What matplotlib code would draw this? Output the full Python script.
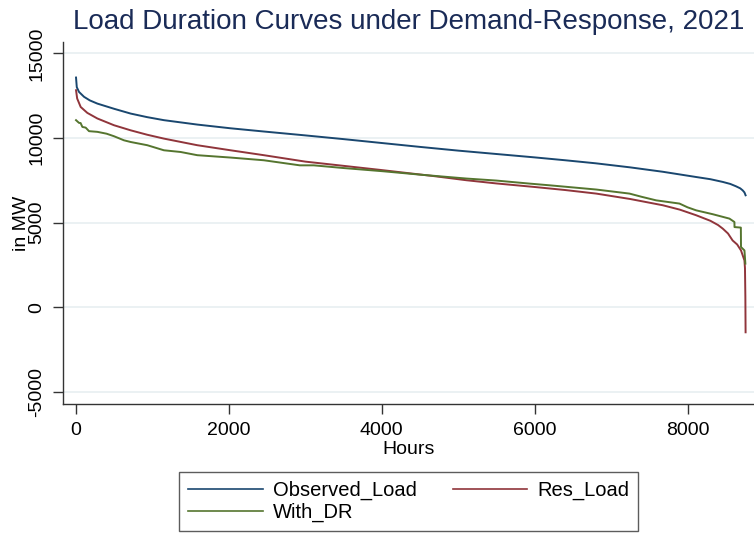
import matplotlib
matplotlib.use("Agg")
import matplotlib.pyplot as plt

# values (hours sorted by load, MW)
obs_hours = [0, 10, 39, 105, 180, 279, 500, 715, 930, 1150, 1586, 2022, 2457, 3000, 3500,
             4000, 4500, 5000, 5500, 6000, 6400, 6800, 7250, 7677, 8113, 8300, 8461, 8560,
             8635, 8690, 8722, 8745, 8760]
obs_load = [13570, 13000, 12720, 12430, 12220, 12030, 11720, 11440, 11230, 11050, 10790,
            10570, 10380, 10150, 9930, 9700, 9470, 9250, 9050, 8850, 8680, 8500, 8260, 8000,
            7690, 7560, 7400, 7280, 7140, 7020, 6900, 6780, 6610]

res_hours = [0, 15, 61, 148, 279, 497, 715, 930, 1150, 1586, 2022, 2457, 3000, 3500, 4000,
             4670, 5106, 5500, 6000, 6400, 6806, 7250, 7677, 7900, 8113, 8300, 8400, 8461,
             8530, 8590, 8650, 8700, 8745, 8752, 8757, 8760]
res_load = [12820, 12330, 11830, 11480, 11150, 10750, 10450, 10190, 9960, 9570, 9270, 8980,
            8600, 8350, 8100, 7750, 7500, 7310, 7100, 6920, 6710, 6390, 6020, 5760, 5430,
            5100, 4850, 4640, 4350, 3940, 3700, 3350, 2760, 2300, 600, -1490]

dr_hours = [0, 39, 60, 83, 126, 170, 279, 400, 497, 627, 715, 932, 1150, 1368, 1586, 2022,
            2457, 2928, 3110, 3500, 4017, 4500, 5106, 5500, 5935, 6195, 6806, 7241, 7400,
            7590, 7895, 8000, 8113, 8331, 8549, 8614, 8615, 8698, 8700, 8745, 8757]
dr_load = [11050, 10890, 10880, 10650, 10610, 10400, 10360, 10250, 10100, 9860, 9760, 9570,
           9270, 9170, 8980, 8840, 8680, 8380, 8380, 8220, 8030, 7830, 7600, 7480, 7300,
           7200, 6950, 6710, 6520, 6310, 6120, 5900, 5720, 5490, 5230, 5030, 4730, 4700,
           3550, 3350, 2570]

series_names = ["Observed_Load", "Res_Load", "With_DR"]
series_colors = ["#1a476f", "#90353b", "#55752f"]

x_ticks = [0, 2000, 4000, 6000, 8000]
y_ticks = [-5000, 0, 5000, 10000, 15000]

plt.rcParams["font.family"] = ["Liberation Sans", "DejaVu Sans"]

fig = plt.figure(figsize=(7.54, 5.33), dpi=100)
ax = fig.add_axes([0.084, 0.2415, 0.916, 0.6803])

l1, = ax.plot(obs_hours, obs_load, color=series_colors[0], lw=1.4)
l2, = ax.plot(res_hours, res_load, color=series_colors[1], lw=1.4)
l3, = ax.plot(dr_hours, dr_load, color=series_colors[2], lw=1.4)

ax.set_xlim(-166, 8870)
ax.set_ylim(-5745, 15690)
ax.set_xticks(x_ticks)
ax.set_yticks(y_ticks)
ax.set_yticklabels([str(v) for v in y_ticks], rotation=90, va="center")
ax.tick_params(axis="both", labelsize=14, length=7, width=1, color="#333333", pad=6)
ax.grid(axis="y", color="#e6eef0", lw=1.1)
ax.set_axisbelow(True)
for side in ["top", "right"]:
    ax.spines[side].set_visible(False)
for side in ["left", "bottom"]:
    ax.spines[side].set_color("#333333")
    ax.spines[side].set_linewidth(1)

ax.set_xlabel("Hours", fontsize=14, labelpad=1)
ax.set_ylabel("in MW", fontsize=14, labelpad=-1)
ax.set_title("Load Duration Curves under Demand-Response, 2021", fontsize=20,
             color="#1a2b57", pad=9)

# matplotlib fills legend columns first, so order handles to get row-wise layout
leg = fig.legend([l1, l3, l2], [series_names[0], series_names[2], series_names[1]],
                 ncol=2, loc="upper left",
                 bbox_to_anchor=(179 / 754, 1 - 471.7 / 533), fontsize=14.5,
                 frameon=True, fancybox=False, handlelength=3.7, handletextpad=0.5,
                 columnspacing=1.8, borderpad=0.45, labelspacing=0.15, borderaxespad=0)
leg.get_frame().set_edgecolor("#333333")
leg.get_frame().set_linewidth(1)
for line in leg.get_lines():
    line.set_linewidth(1.2)

fig.savefig("out.png", dpi=100)
